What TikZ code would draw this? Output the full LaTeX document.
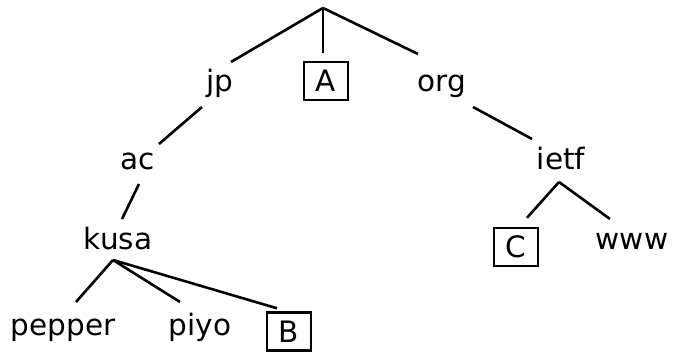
\documentclass[tikz,border=0pt]{standalone}
\usepackage{fontspec}
\setmainfont{DejaVu Sans}
\begin{document}
\begin{tikzpicture}[x=1pt,y=-1pt,
  lbl/.style={anchor=base,inner sep=0pt,font=\fontsize{29.5}{35}\selectfont},
  boxed/.style={draw,line width=2.4pt,minimum width=44pt,minimum height=38pt,inner sep=0pt,font=\fontsize{29.5}{35}\selectfont},
  edge/.style={line width=2.6pt}]
\useasboundingbox (0,0) rectangle (683,352);
\coordinate (root) at (323,8);
\node[lbl] (jp) at (220,92) {jp};
\node[boxed] (A) at (326,81) {A};
\node[lbl] (org) at (442,92) {org};
\node[lbl] (ac) at (138,170) {ac};
\node[lbl] (kusa) at (118,250) {kusa};
\node[lbl] (pepper) at (63,336) {pepper};
\node[lbl] (piyo) at (200,336) {piyo};
\node[boxed] (B) at (289,331.5) {B};
\node[lbl] (ietf) at (561,170) {ietf};
\node[boxed] (C) at (516,247) {C};
\node[lbl] (www) at (632,250) {www};
\draw[edge] (root) -- ([shift={(11,-30)}]jp.base);
\draw[edge] (root) -- ([shift={(-3,-8)}]A.north);
\draw[edge] (root) -- ([shift={(-24,-38)}]org.base);
\draw[edge] ([shift={(-18,15)}]jp.base) -- ([shift={(21,-26)}]ac.base);
\draw[edge] ([shift={(1,14)}]ac.base) -- ([shift={(4,-31)}]kusa.base);
\draw[edge] ([shift={(-5,10)}]kusa.base) -- ([shift={(13,-34)}]pepper.base);
\draw[edge] ([shift={(-5,10)}]kusa.base) -- ([shift={(-20,-34)}]piyo.base);
\draw[edge] ([shift={(-5,10)}]kusa.base) -- ([shift={(-12,-3)}]B.north);
\draw[edge] ([shift={(31,15)}]org.base) -- ([shift={(-29,-31)}]ietf.base);
\draw[edge] ([shift={(-2,12)}]ietf.base) -- ([shift={(11,-9)}]C.north);
\draw[edge] ([shift={(-2,12)}]ietf.base) -- ([shift={(-22,-31)}]www.base);
\end{tikzpicture}
\end{document}
